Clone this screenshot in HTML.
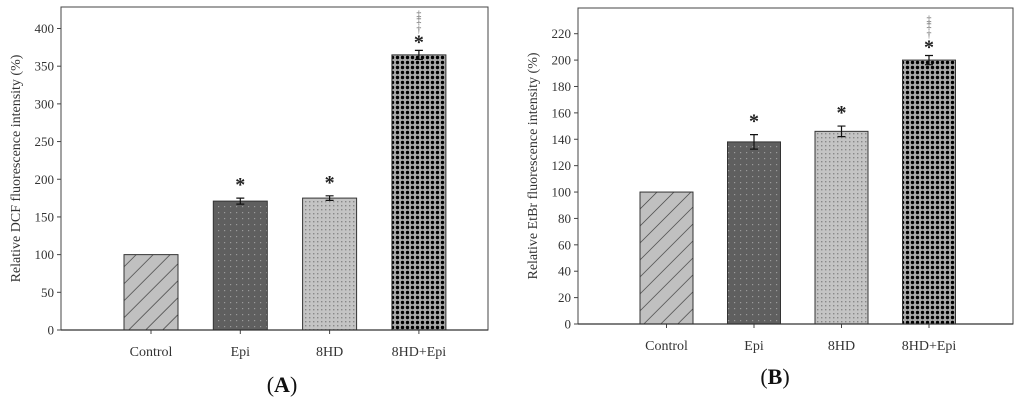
<!DOCTYPE html>
<html><head><meta charset="utf-8">
<style>
html,body{margin:0;padding:0;background:#fff;}
svg{display:block;font-family:"Liberation Serif",serif;}
</style></head>
<body>
<svg id="svg" width="1024" height="407" viewBox="0 0 1024 407" xmlns="http://www.w3.org/2000/svg">
<defs>
<pattern id="pCtrl" width="12" height="12" patternUnits="userSpaceOnUse" patternTransform="rotate(45)">
<rect width="12" height="12" fill="#c0c0c0"/><line x1="0" y1="0" x2="0" y2="12" stroke="#333" stroke-width="1.3"/></pattern>
<pattern id="pEpi" width="6" height="6" patternUnits="userSpaceOnUse">
<rect width="6" height="6" fill="#5f5f5f"/><rect x="2" y="2" width="1.2" height="1.2" fill="#9a9a9a"/></pattern>
<pattern id="p8HD" width="4" height="4" patternUnits="userSpaceOnUse">
<rect width="4" height="4" fill="#c4c4c4"/><rect x="1" y="1" width="1.4" height="1.4" fill="#888"/></pattern>
<pattern id="pCombo" width="5" height="5" patternUnits="userSpaceOnUse">
<rect width="5" height="5" fill="#aaa"/><circle cx="2.5" cy="2.5" r="1.7" fill="#000"/></pattern>
</defs>
<g id="gA"></g>
<g id="gB"></g>
</svg>
<script>
const categories = ["Control","Epi","8HD","8HD+Epi"];
const valuesA = [100, 171, 175, 365];
const errorsA = [0, 4, 3, 6];
const ticksA = [0,50,100,150,200,250,300,350,400];
const valuesB = [100, 138, 146, 200];
const errorsB = [0, 5.5, 4, 3.5];
const ticksB = [0,20,40,60,80,100,120,140,160,180,200,220];

const NS="http://www.w3.org/2000/svg";
const fills=["url(#pCtrl)","url(#pEpi)","url(#p8HD)","url(#pCombo)"];
function mk(parent,tag,attrs,text){const e=document.createElementNS(NS,tag);for(const k in attrs)e.setAttribute(k,attrs[k]);if(text!==undefined)e.textContent=text;parent.appendChild(e);return e;}

function draw(g,cfg,values,errors,ticks){
  const y=v=>cfg.y0-(v-0)*(cfg.y0-cfg.yTop)/(cfg.vTop);
  const x=i=>cfg.c0+i*cfg.step;
  const f=mk(g,"rect",{x:cfg.left,y:cfg.top,width:cfg.right-cfg.left,height:cfg.y0-cfg.top,fill:"none",stroke:"#444","stroke-width":1});
  
  
  ticks.forEach(t=>{
    const l=mk(g,"line",{x1:cfg.left-4,x2:cfg.left,y1:y(t),y2:y(t),stroke:"#444"});
    
    
    const tx=mk(g,"text",{x:cfg.left-7,y:y(t)+4.5,"text-anchor":"end","font-size":13,fill:"#333"},String(t));
    
    
  });
  const yt=mk(g,"text",{x:0,y:0,"text-anchor":"middle","font-size":14,fill:"#333",transform:`translate(${cfg.titleX},${(cfg.top+cfg.y0)/2}) rotate(-90)`},cfg.title);
  
  
  values.forEach((v,i)=>{
    const cx=x(i);
    const b=mk(g,"rect",{x:cx-cfg.bw/2,y:y(v),width:cfg.bw,height:cfg.y0-y(v),fill:fills[i],stroke:"#333","stroke-width":1});
    
    
    const tk=mk(g,"line",{x1:cx,x2:cx,y1:cfg.y0,y2:cfg.y0+4,stroke:"#444"});
    
    
    const lb=mk(g,"text",{x:cx,y:cfg.y0+26,"text-anchor":"middle","font-size":14,fill:"#333"},categories[i]);
    
    
    if(errors[i]>0){
      const e=errors[i];
      const eb=mk(g,"path",{d:`M${cx},${y(v+e)}V${y(v-e)}M${cx-4},${y(v+e)}H${cx+4}M${cx-4},${y(v-e)}H${cx+4}`,stroke:"#111","stroke-width":1.2,fill:"none"});
      
      
      const top=y(v+e);
      const st=mk(g,"text",{x:cx,y:top+(i===3?-2:-7),"text-anchor":"middle","font-size":20,"font-weight":"bold",fill:"#222"},"*");
      
      
      if(i===3){
        [["†",top-18],["‡",top-27],["‡",top-33]].forEach(([s,yy])=>{
          const m=mk(g,"text",{x:cx,y:yy,"text-anchor":"middle","font-size":10,fill:"#666"},s);
          
          
        });
      }
    }
  });
  const ax=mk(g,"line",{x1:cfg.left,x2:cfg.right,y1:cfg.y0,y2:cfg.y0,stroke:"#333","stroke-width":1.2});
  
  
  const pl=mk(g,"text",{x:cfg.labX,y:cfg.labY,"text-anchor":"middle","font-size":22,"font-weight":"bold",fill:"#111"},"");
  
  
  mk(pl,"tspan",{"font-weight":"normal"},"(");mk(pl,"tspan",{},cfg.letter);mk(pl,"tspan",{"font-weight":"normal"},")");
}
draw(document.getElementById("gA"),{left:61,right:488,top:7,y0:330,yTop:28.5,vTop:400,c0:151,step:89.3,bw:54,title:"Relative DCF fluorescence intensity (%)",titleX:20,labX:282,labY:392,letter:"A"},valuesA,errorsA,ticksA);
draw(document.getElementById("gB"),{left:578,right:1013,top:8,y0:324,yTop:33.7,vTop:220,c0:666.5,step:87.5,bw:53,title:"Relative EtBr fluorescence intensity (%)",titleX:537,labX:775,labY:384,letter:"B"},valuesB,errorsB,ticksB);
</script>
</body></html>
